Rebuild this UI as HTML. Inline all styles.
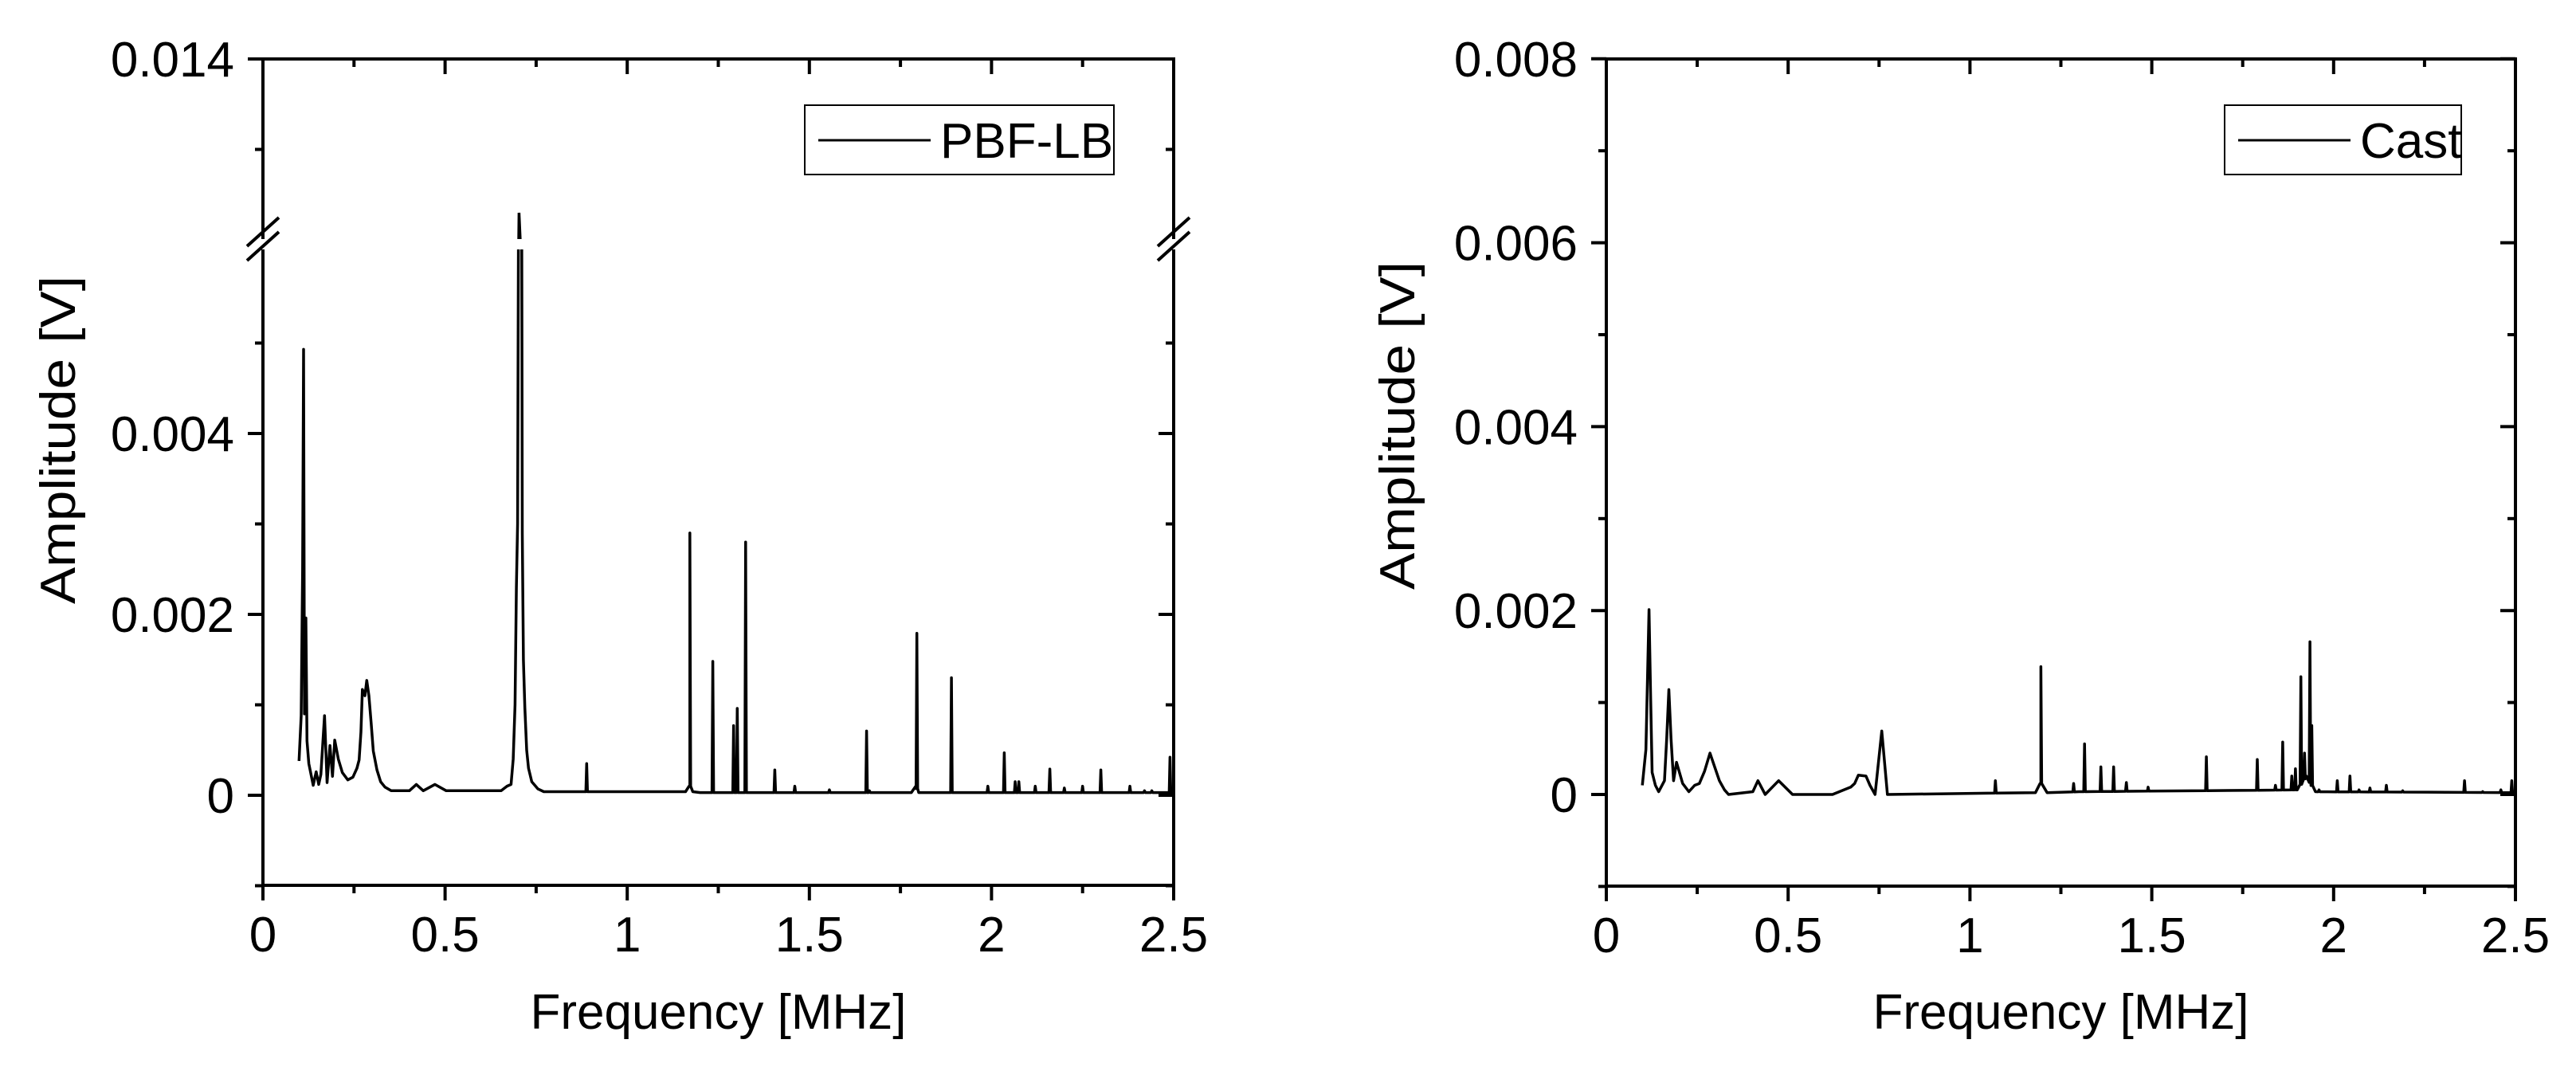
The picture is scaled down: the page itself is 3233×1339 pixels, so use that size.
<!DOCTYPE html>
<html><head><meta charset="utf-8">
<style>
html,body{margin:0;padding:0;background:#fff;width:3233px;height:1339px;overflow:hidden;}
svg{display:block;font-family:"Liberation Sans",Arial,sans-serif;}
</style></head>
<body>
<svg id="chart" width="3233" height="1339" viewBox="0 0 3233 1339" xmlns="http://www.w3.org/2000/svg">
<defs>
<clipPath id="clipLlow"><rect x="330" y="313" width="1143" height="798"/></clipPath>
<clipPath id="clipLup"><rect x="330" y="74" width="1143" height="226"/></clipPath>
<clipPath id="clipR"><rect x="2016" y="74" width="1141" height="1038"/></clipPath>
</defs>
<g id="left"></g>
<g id="right"></g>
</svg>
<script>
// ---- data: PBF-LB (left) ----
const pbfBaseFreq = [0.099,0.105,0.109,0.1115,0.114,0.118,0.121,0.126,0.138,0.146,0.153,0.159,0.169,0.176,0.184,0.191,0.197,0.207,0.218,0.233,0.247,0.258,0.264,0.269,0.273,0.280,0.285,0.291,0.297,0.303,0.313,0.323,0.335,0.352,0.402,0.421,0.440,0.472,0.503,0.654,0.670,0.681,0.687,0.692,0.6957,0.699,0.7015,0.703,0.709,0.7105,0.712,0.715,0.719,0.724,0.729,0.738,0.755,0.771,1.160,1.172,1.180,1.200,1.780,1.792,1.800,1.820,2.5];
const pbfBaseAmp  = [0.00038,0.00088,0.0025,0.00493,0.0009,0.00196,0.0006,0.00035,0.00011,0.00026,0.00012,0.00023,0.00088,0.00014,0.00055,0.00021,0.00061,0.0004,0.00025,0.00017,0.0002,0.0003,0.00039,0.0007,0.00117,0.0011,0.00127,0.0011,0.0008,0.00049,0.00028,0.00015,0.00009,0.00005,0.00005,0.00012,0.00005,0.00012,0.00005,0.00005,0.0001,0.00012,0.0004,0.001,0.0023,0.003,0.0075,0.0123,0.0095,0.0065,0.0029,0.0015,0.00097,0.0005,0.0003,0.00015,0.00007,0.00004,0.00004,0.0001,0.00004,0.00003,0.00003,0.0001,0.00003,0.00003,0.00003];
const pbfSpikeFreq = [0.8886,1.172,1.235,1.292,1.302,1.325,1.405,1.46,1.555,1.657,1.665,1.795,1.89,1.99,2.035,2.065,2.075,2.12,2.16,2.20,2.25,2.30,2.38,2.42,2.44,2.49];
const pbfSpikeAmp  = [0.00035,0.0029,0.00148,0.00077,0.00096,0.0028,0.00028,0.0001,0.00006,0.00071,0.00005,0.00179,0.0013,0.0001,0.00047,0.00015,0.00015,0.0001,0.00029,0.00008,0.0001,0.00028,0.0001,0.00005,0.00005,0.00042];
// ---- data: Cast (right) ----
const castBaseFreq = [0.099,0.109,0.1175,0.122,0.126,0.135,0.144,0.160,0.166,0.172,0.178,0.185,0.193,0.21,0.227,0.243,0.256,0.270,0.285,0.298,0.311,0.325,0.336,0.403,0.417,0.437,0.474,0.512,0.622,0.672,0.683,0.693,0.714,0.725,0.739,0.7575,0.773,1.180,1.195,1.212,1.30,1.90,1.925,1.95,2.5];
const castBaseAmp  = [0.0001,0.00049,0.00201,0.00102,0.00024,0.0001,0.00003,0.00015,0.00061,0.00114,0.00061,0.00015,0.00035,0.00012,0.00003,0.0001,0.00012,0.00025,0.00045,0.0003,0.00015,0.00005,0.0,0.00003,0.00015,0.0,0.00015,0.0,0.0,0.00008,0.00012,0.00021,0.0002,0.0001,0.0,0.00069,0.0,0.00002,0.00012,0.00002,0.00003,0.00005,0.0002,0.00003,0.00002];
const castSpikeFreq = [1.07,1.195,1.285,1.315,1.36,1.395,1.43,1.49,1.65,1.79,1.84,1.86,1.885,1.895,1.91,1.92,1.935,1.94,1.96,2.01,2.045,2.07,2.1,2.145,2.19,2.36,2.41,2.46,2.49];
const castSpikeAmp  = [0.00015,0.00139,0.00012,0.00055,0.0003,0.0003,0.00013,0.00008,0.00041,0.00038,0.0001,0.00057,0.0002,0.00028,0.00128,0.00045,0.00166,0.00075,0.00005,0.00015,0.0002,0.00005,0.00007,0.0001,0.00004,0.00015,0.00003,0.00005,0.00015];
// ---- tick labels ----
const xTickLabels = ["0","0.5","1","1.5","2","2.5"];
const leftYTicks = ["0","0.002","0.004","0.014"];
const rightYTicks = ["0","0.002","0.004","0.006","0.008"];

const NS="http://www.w3.org/2000/svg";
function mk(parent,tag,attrs,text){const e=document.createElementNS(NS,tag);for(const k in attrs)e.setAttribute(k,attrs[k]);if(text!==undefined)e.textContent=text;parent.appendChild(e);return e;}

function series(bf,ba,sf,sa){
  function baseAt(f){for(let i=0;i<bf.length-1;i++){if(f>=bf[i]&&f<=bf[i+1]){const t=(f-bf[i])/(bf[i+1]-bf[i]);return ba[i]+t*(ba[i+1]-ba[i]);}}return ba[ba.length-1];}
  const pts=[];for(let i=0;i<bf.length;i++)pts.push([bf[i],ba[i]]);
  for(let i=0;i<sf.length;i++){const f=sf[i],b=baseAt(f);pts.push([f-0.0022,b]);pts.push([f,Math.max(sa[i],b)]);pts.push([f+0.0022,b]);}
  pts.sort((a,b)=>a[0]-b[0]);return pts;
}

function panel(g,x0,x1,yTop,yBot,y0,pxPer,opts){
  const xs=f=>x0+(f/2.5)*(x1-x0);
  const ys=v=>y0-v*pxPer;
  const fr=mk(g,'rect',{x:x0,y:yTop,width:x1-x0,height:yBot-yTop,fill:'none',stroke:'#000','stroke-width':4});
  
  
  for(let i=0;i<=10;i++){const f=i*0.25,x=xs(f),maj=i%2==0,L=maj?19:10;
    const t=mk(g,'line',{x1:x,y1:yBot,x2:x,y2:yBot+L,stroke:'#000','stroke-width':4});
    
    
    const t2=mk(g,'line',{x1:x,y1:yTop,x2:x,y2:yTop+L,stroke:'#000','stroke-width':4});
    
    
    if(maj){const lb=mk(g,'text',{x:x,y:yBot+83,'font-size':62,'text-anchor':'middle'},xTickLabels[i/2]);
      
      }
  }
  opts.yt.forEach(tk=>{const y=tk.y,L=tk.maj?19:10;
    const a=mk(g,'line',{x1:x0-L,y1:y,x2:x0,y2:y,stroke:'#000','stroke-width':4});
    
    
    const b=mk(g,'line',{x1:x1-L,y1:y,x2:x1,y2:y,stroke:'#000','stroke-width':4});
    
    
    if(tk.label){const lb=mk(g,'text',{x:x0-36,y:y+22,'font-size':62,'text-anchor':'end'},tk.label);
      
      }
  });
  const xt=mk(g,'text',{x:(x0+x1)/2,y:1291,'font-size':62,'text-anchor':'middle',textLength:472,lengthAdjust:'spacingAndGlyphs'},'Frequency [MHz]');
  
  
  const yt=mk(g,'text',{x:0,y:0,'font-size':62,'text-anchor':'middle',textLength:412,lengthAdjust:'spacingAndGlyphs',transform:`translate(${opts.ytx},${opts.yty}) rotate(-90)`},'Amplitude [V]');
  
  
  const lg=mk(g,'g',{});
  
  
  mk(lg,'rect',{x:opts.lx,y:132,width:opts.lw,height:87,fill:'#fff',stroke:'#000','stroke-width':2});
  mk(lg,'line',{x1:opts.lx+17,y1:176,x2:opts.lx+158,y2:176,stroke:'#000','stroke-width':3});
  const lt=mk(lg,'text',{x:opts.lx+170,y:198,'font-size':62},opts.name);
  
  
  return {xs,ys};
}

// Left panel
const gL=document.getElementById('left');
const LX0=330,LX1=1473,LY0=998,LPX=113500,LTOP=74;
const ysUp=v=>Math.min(330,LTOP+(0.014-v)*LPX);
const ysLow=v=>Math.max(290,LY0-v*LPX);
const leftTicks=[{y:LY0+0.001*LPX,maj:false},{y:LY0,maj:true,label:leftYTicks[0]},{y:LY0-0.001*LPX,maj:false},{y:LY0-0.002*LPX,maj:true,label:leftYTicks[1]},{y:LY0-0.003*LPX,maj:false},{y:LY0-0.004*LPX,maj:true,label:leftYTicks[2]},{y:LY0-0.005*LPX,maj:false},{y:LTOP+0.001*LPX,maj:false},{y:LTOP,maj:true,label:leftYTicks[3]}];
const L=panel(gL,LX0,LX1,LTOP,1111,LY0,LPX,{yt:leftTicks,ytx:94,yty:552,lx:1010,lw:388,name:'PBF-LB'});
const pL=series(pbfBaseFreq,pbfBaseAmp,pbfSpikeFreq,pbfSpikeAmp);
const lo=mk(gL,'polyline',{points:pL.map(p=>L.xs(p[0]).toFixed(1)+','+ysLow(p[1]).toFixed(1)).join(' '),fill:'none',stroke:'#000','stroke-width':3.5,'stroke-linejoin':'round','clip-path':'url(#clipLlow)'});


const up=mk(gL,'polyline',{points:pL.map(p=>L.xs(p[0]).toFixed(1)+','+ysUp(p[1]).toFixed(1)).join(' '),fill:'none',stroke:'#000','stroke-width':3.5,'clip-path':'url(#clipLup)'});


[LX0,LX1].forEach(x=>{
  const bg=mk(gL,'rect',{x:x-4,y:300,width:8,height:13,fill:'#fff'});
  
  
  [291,309].forEach(yc=>{const s=mk(gL,'line',{x1:x-20,y1:yc+18,x2:x+20,y2:yc-18,stroke:'#000','stroke-width':4});
    
    });
});

// Right panel
const gR=document.getElementById('right');
const RX0=2016,RX1=3157,RY0=997,RPX=115400;
const rightTicks=[];
for(let k=-1;k<=8;k++){const tk={y:RY0-k*0.001*RPX,maj:k>=0&&k%2==0};if(tk.maj)tk.label=rightYTicks[k/2];rightTicks.push(tk);}
const R=panel(gR,RX0,RX1,74,1112,RY0,RPX,{yt:rightTicks,ytx:1775,yty:534,lx:2792,lw:297,name:'Cast'});
const pR=series(castBaseFreq,castBaseAmp,castSpikeFreq,castSpikeAmp);
const rl=mk(gR,'polyline',{points:pR.map(p=>R.xs(p[0]).toFixed(1)+','+R.ys(p[1]).toFixed(1)).join(' '),fill:'none',stroke:'#000','stroke-width':3.5,'stroke-linejoin':'round','clip-path':'url(#clipR)'});


</script>
</body></html>
